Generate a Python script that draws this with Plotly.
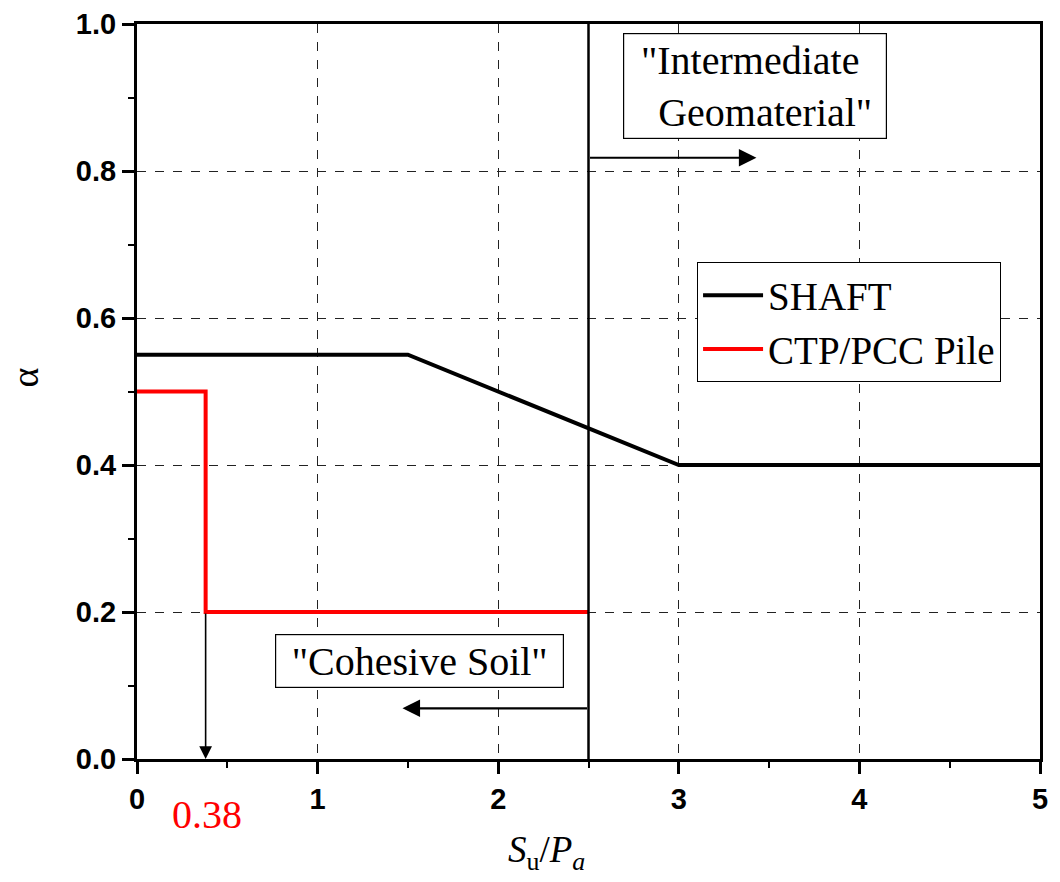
import plotly.graph_objects as go

shaft_x = [0, 1.5, 3, 5]
shaft_y = [0.55, 0.55, 0.4, 0.4]
ctp_x = [0, 0.38, 0.38, 2.5]
ctp_y = [0.5, 0.5, 0.2, 0.2]
boundary_x = 2.5
marker_x = 0.38
x_ticks = [0, 1, 2, 3, 4, 5]
y_ticks = [0.0, 0.2, 0.4, 0.6, 0.8, 1.0]

fig = go.Figure()
fig.add_trace(go.Scatter(x=shaft_x, y=shaft_y, mode="lines", name="SHAFT",
                         line=dict(color="black", width=4)))
fig.add_trace(go.Scatter(x=ctp_x, y=ctp_y, mode="lines", name="CTP/PCC Pile",
                         line=dict(color="red", width=4)))
fig.add_trace(go.Scatter(x=[boundary_x, boundary_x], y=[0, 1], mode="lines",
                         line=dict(color="black", width=2.5), showlegend=False))

serif = "Liberation Serif, Times New Roman, serif"
sans = "Liberation Sans, Arial, sans-serif"

axis_common = dict(
    showline=True, linecolor="black", linewidth=3, mirror=True,
    ticks="outside", ticklen=12, tickwidth=2.5, tickcolor="black",
    showgrid=True, gridcolor="#222", griddash="dash", gridwidth=1,
    zeroline=False, automargin=False,
    tickfont=dict(family=sans, size=29, color="black", weight="bold"),
)
fig.update_xaxes(range=[0, 5], tickvals=x_ticks, ticktext=[str(v) for v in x_ticks],
                 minor=dict(ticks="outside", dtick=0.5, ticklen=6, tickwidth=2,
                            tickcolor="black", showgrid=False),
                 **axis_common)
fig.update_yaxes(range=[0, 1], tickvals=y_ticks, ticktext=[f"{v:.1f}" for v in y_ticks],
                 minor=dict(ticks="outside", dtick=0.1, ticklen=6, tickwidth=2,
                            tickcolor="black", showgrid=False),
                 **axis_common)

ann = []
ann.append(dict(x=3.43, y=0.818, ax=boundary_x, ay=0.818, xref="x", yref="y",
                axref="x", ayref="y", showarrow=True, arrowhead=2, arrowsize=1.6,
                arrowwidth=2.2, arrowcolor="black", text=""))
ann.append(dict(x=1.47, y=0.069, ax=boundary_x, ay=0.069, xref="x", yref="y",
                axref="x", ayref="y", showarrow=True, arrowhead=2, arrowsize=1.6,
                arrowwidth=2.2, arrowcolor="black", text=""))
ann.append(dict(x=marker_x, y=0.0, ax=marker_x, ay=0.2, xref="x", yref="y",
                axref="x", ayref="y", showarrow=True, arrowhead=2, arrowsize=1.6,
                arrowwidth=1.6, arrowcolor="black", text=""))
ann.append(dict(x=3.42, y=0.915, xref="x", yref="y", showarrow=False,
                text='"Intermediate <br>  Geomaterial"', align="center",
                width=258, height=100,
                font=dict(family=serif, size=40, color="black"),
                bordercolor="black", borderwidth=1.2, borderpad=2, bgcolor="white"))
ann.append(dict(x=1.564, y=0.133, xref="x", yref="y", showarrow=False,
                text='"Cohesive Soil"', align="center",
                width=283, height=48,
                font=dict(family=serif, size=40, color="black"),
                bordercolor="black", borderwidth=1.2, borderpad=2, bgcolor="white"))
ann.append(dict(x=marker_x + 0.01, y=-0.075, xref="x", yref="paper", showarrow=False,
                text=str(marker_x), yanchor="middle", xanchor="center",
                font=dict(family=serif, size=40, color="red")))
ann.append(dict(x=0.453, y=-0.127, xref="paper", yref="paper", showarrow=False,
                text="<i>S</i><sub>u</sub>/<i>P</i><sub><i>a</i></sub>",
                font=dict(family=serif, size=37, color="black"),
                yanchor="middle", xanchor="center"))
ann.append(dict(x=-0.124, y=0.519, xref="paper", yref="paper", showarrow=False,
                text="α", textangle=-90, xanchor="center", yanchor="middle",
                font=dict(family=serif, size=38, color="black")))

fig.update_layout(
    width=1052, height=874,
    margin=dict(l=129, r=20, t=16, b=123, autoexpand=False),
    plot_bgcolor="white", paper_bgcolor="white",
    annotations=ann,
    legend=dict(x=0.62, y=0.676, xanchor="left", yanchor="top",
                bgcolor="white", bordercolor="black", borderwidth=1.2,
                font=dict(family=serif, size=39, color="black"),
                itemwidth=60, tracegroupgap=0),
)

fig.write_html("out.html")
